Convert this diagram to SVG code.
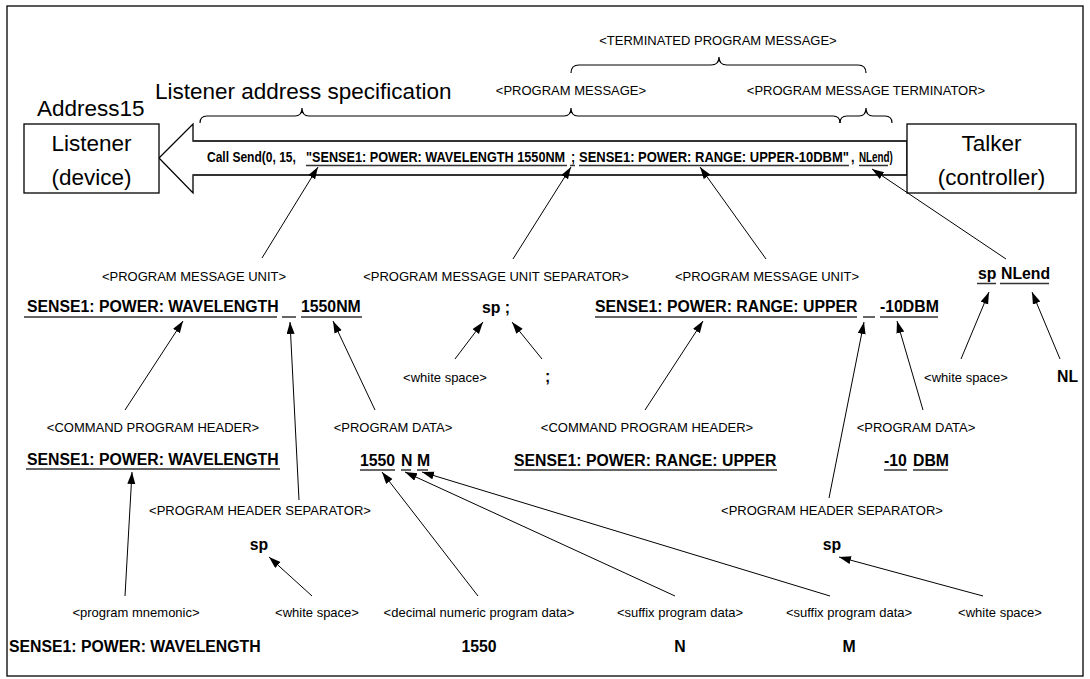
<svg xmlns="http://www.w3.org/2000/svg" width="1090" height="679" viewBox="0 0 1090 679">
  <defs>
    <marker id="ah" markerUnits="userSpaceOnUse" markerWidth="13" markerHeight="9" refX="12" refY="4" orient="auto">
      <path d="M0,0 L12,4 L0,8 z" fill="#000"/>
    </marker>
    <style>
      .lbl { font-family: "Liberation Sans", Arial, sans-serif; font-size: 13px; fill: #000; text-anchor: middle; }
      .big { font-family: "Liberation Sans", Arial, sans-serif; font-size: 22.5px; fill: #000; }
      .bold { font-family: "Liberation Sans", Arial, sans-serif; font-size: 15.8px; font-weight: bold; fill: #000; }
      .call { font-family: "Liberation Sans", Arial, sans-serif; font-size: 14.5px; font-weight: bold; fill: #000; }
      .ul { stroke: #333; stroke-width: 1.5; fill: none; }
      .box { fill: #fff; stroke: #000; stroke-width: 1.3; }
      .conn line { stroke: #000; stroke-width: 1; marker-end: url(#ah); }
      .brace { fill: none; stroke: #000; stroke-width: 1.2; }
    </style>
  </defs>

  <rect x="0" y="0" width="1090" height="679" fill="#fff"/>
  <!-- frame -->
  <rect x="7" y="6" width="1076" height="670" fill="none" stroke="#000" stroke-width="1.3"/>

  <!-- bus arrow from talker to listener, carrying the condensed call text -->
  <g id="bus">
    <polygon points="159,158 193,124 193,141 907,141 907,175 193,175 193,193" fill="#fff" stroke="#000" stroke-width="1.3"/>
    <line x1="193" y1="141" x2="907" y2="141" stroke="#333" stroke-width="2"/>
    <line x1="193" y1="175" x2="907" y2="175" stroke="#333" stroke-width="2"/>
    <text class="call" transform="translate(207,162) scale(0.83,1)">Call Send(0, 15,</text>
    <text class="call" transform="translate(306,162) scale(0.874,1)">"SENSE1: POWER: WAVELENGTH 1550NM</text>
    <text class="call" transform="translate(571,162) scale(0.87,1)">;</text>
    <text class="call" transform="translate(579,162) scale(0.895,1)">SENSE1: POWER: RANGE: UPPER-10DBM"</text>
    <text class="call" transform="translate(851,162) scale(0.87,1)">,</text>
    <text class="call" transform="translate(859,162) scale(0.68,1)">NLend)</text>
    <path class="ul" d="M306,165.5 H567 M570,165.5 H575 M579,165.5 H849 M859,165.5 H888"/>
  </g>

  <g id="listener">
    <rect class="box" x="24" y="124" width="135" height="69"/>
    <text class="big" x="91.5" y="151" text-anchor="middle">Listener</text>
    <text class="big" x="91.5" y="185" text-anchor="middle">(device)</text>
    <text class="big" x="37" y="116">Address15</text>
  </g>

  <g id="talker">
    <rect class="box" x="907" y="124" width="169" height="69"/>
    <text class="big" x="991.5" y="151" text-anchor="middle">Talker</text>
    <text class="big" x="991.5" y="185" text-anchor="middle">(controller)</text>
  </g>

  <!-- braces above the bus -->
  <g id="braces">
    <text class="big" x="155" y="99">Listener address specification</text>
    <path class="brace" d="M200,123 Q200,116 207,116 L295,116 Q302,116 302,108 Q302,116 309,116 L564,116 Q571,116 571,108 Q571,116 578,116 L833,116 Q840,116 840,123"/>
    <path class="brace" d="M840,123 Q840,116 847,116 L859,116 Q866,116 866,108 Q866,116 873,116 L885,116 Q892,116 892,123"/>
    <path class="brace" d="M571,73 Q571,65 579,65 L711,65 Q719,65 719,57 Q719,65 727,65 L858,65 Q866,65 866,73"/>
    <text class="lbl" x="718" y="45">&lt;TERMINATED PROGRAM MESSAGE&gt;</text>
    <text class="lbl" x="571" y="95">&lt;PROGRAM MESSAGE&gt;</text>
    <text class="lbl" x="866" y="95">&lt;PROGRAM MESSAGE TERMINATOR&gt;</text>
  </g>

  <!-- message units -->
  <g id="unit-1">
    <text class="lbl" x="194" y="281">&lt;PROGRAM MESSAGE UNIT&gt;</text>
    <text class="bold" x="27" y="312">SENSE1: POWER: WAVELENGTH</text>
    <text class="bold" x="301" y="312">1550NM</text>
    <path class="ul" d="M24,317 H277 M282,317 H296 M301,317 H362"/>
  </g>
  <g id="separator">
    <text class="lbl" x="496" y="281">&lt;PROGRAM MESSAGE UNIT SEPARATOR&gt;</text>
    <text class="bold" x="482" y="313">sp ;</text>
    <text class="lbl" x="445" y="382">&lt;white space&gt;</text>
    <text class="bold" x="545" y="382">;</text>
  </g>
  <g id="unit-2">
    <text class="lbl" x="767" y="281">&lt;PROGRAM MESSAGE UNIT&gt;</text>
    <text class="bold" x="595" y="312">SENSE1: POWER: RANGE: UPPER</text>
    <text class="bold" x="880" y="312">-10DBM</text>
    <path class="ul" d="M595,317 H857 M863,317 H875 M880,317 H938"/>
  </g>
  <g id="terminator">
    <text class="bold" x="978" y="279">sp</text>
    <text class="bold" x="1001" y="279">NLend</text>
    <path class="ul" d="M977,283.5 H996 M1000,283.5 H1049"/>
    <text class="lbl" x="966" y="382">&lt;white space&gt;</text>
    <text class="bold" x="1057" y="382">NL</text>
  </g>

  <!-- headers and data -->
  <g id="header-1">
    <text class="lbl" x="153" y="432">&lt;COMMAND PROGRAM HEADER&gt;</text>
    <text class="bold" x="27" y="465">SENSE1: POWER: WAVELENGTH</text>
    <path class="ul" d="M26,469 H280"/>
  </g>
  <g id="data-1">
    <text class="lbl" x="393" y="432">&lt;PROGRAM DATA&gt;</text>
    <text class="bold" x="360" y="466">1550</text>
    <text class="bold" x="401" y="466">N</text>
    <text class="bold" x="417" y="466">M</text>
    <path class="ul" d="M360,470 H395 M401,470 H411 M417,470 H428"/>
  </g>
  <g id="header-2">
    <text class="lbl" x="647" y="432">&lt;COMMAND PROGRAM HEADER&gt;</text>
    <text class="bold" x="514" y="466">SENSE1: POWER: RANGE: UPPER</text>
    <path class="ul" d="M514,470 H777"/>
  </g>
  <g id="data-2">
    <text class="lbl" x="916" y="432">&lt;PROGRAM DATA&gt;</text>
    <text class="bold" x="884" y="466">-10</text>
    <text class="bold" x="913" y="466">DBM</text>
    <path class="ul" d="M884,470 H907 M913,470 H948"/>
  </g>

  <g id="header-sep-1">
    <text class="lbl" x="260" y="515">&lt;PROGRAM HEADER SEPARATOR&gt;</text>
    <text class="bold" x="259" y="550" text-anchor="middle">sp</text>
  </g>
  <g id="header-sep-2">
    <text class="lbl" x="832" y="515">&lt;PROGRAM HEADER SEPARATOR&gt;</text>
    <text class="bold" x="832" y="550" text-anchor="middle">sp</text>
  </g>

  <!-- bottom row of elements -->
  <g id="elements">
    <text class="lbl" x="136" y="617">&lt;program mnemonic&gt;</text>
    <text class="lbl" x="317" y="617">&lt;white space&gt;</text>
    <text class="lbl" x="479" y="617">&lt;decimal numeric program data&gt;</text>
    <text class="lbl" x="680" y="617">&lt;suffix program data&gt;</text>
    <text class="lbl" x="849" y="617">&lt;suffix program data&gt;</text>
    <text class="lbl" x="1000" y="617">&lt;white space&gt;</text>
    <text class="bold" x="9" y="652">SENSE1: POWER: WAVELENGTH</text>
    <text class="bold" x="479" y="652" text-anchor="middle">1550</text>
    <text class="bold" x="680" y="652" text-anchor="middle">N</text>
    <text class="bold" x="849" y="652" text-anchor="middle">M</text>
  </g>

  <!-- connectors -->
  <g id="connectors" class="conn">
    <line x1="262" y1="258" x2="318" y2="167"/>
    <line x1="513" y1="259" x2="571" y2="167"/>
    <line x1="766" y1="259" x2="700" y2="167"/>
    <line x1="1006" y1="259" x2="872" y2="169"/>

    <line x1="125" y1="410" x2="183" y2="321"/>
    <line x1="299" y1="500" x2="290" y2="322"/>
    <line x1="375" y1="410" x2="333" y2="321"/>
    <line x1="455" y1="359" x2="483" y2="322"/>
    <line x1="542" y1="359" x2="512" y2="322"/>
    <line x1="645" y1="410" x2="703" y2="321"/>
    <line x1="829" y1="498" x2="864" y2="322"/>
    <line x1="923" y1="410" x2="897" y2="321"/>
    <line x1="961" y1="359" x2="989" y2="292"/>
    <line x1="1060" y1="359" x2="1032" y2="292"/>

    <line x1="125" y1="596" x2="132" y2="472"/>
    <line x1="312" y1="596" x2="269" y2="557"/>
    <line x1="478" y1="596" x2="382" y2="472"/>
    <line x1="675" y1="596" x2="405" y2="472"/>
    <line x1="830" y1="596" x2="422" y2="472"/>
    <line x1="983" y1="596" x2="839" y2="557"/>
  </g>
</svg>
